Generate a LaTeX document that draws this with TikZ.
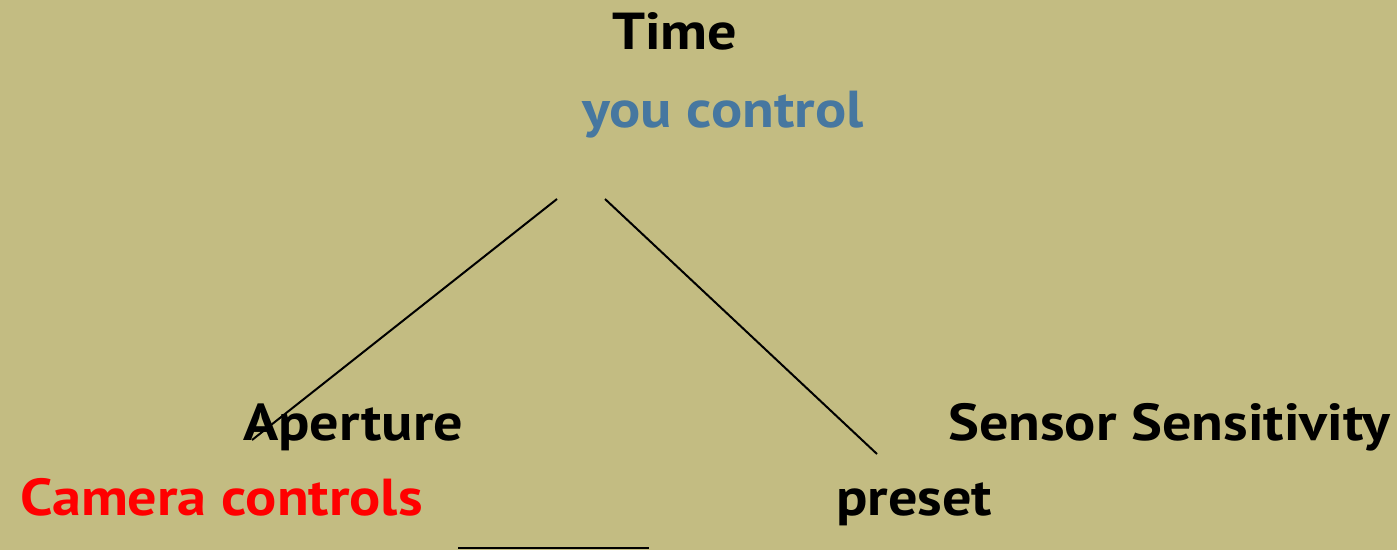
\documentclass[tikz,border=0pt]{standalone}
\usepackage{fontspec}
\setmainfont{PT Sans}[FakeStretch=1.12]
\usepackage{tikz}
\definecolor{olivebg}{RGB}{195,188,130}
\definecolor{ctrlblue}{RGB}{70,119,160}
\tikzstyle{lbl}=[anchor=base west,inner sep=0pt,font=\fontsize{52}{60}\selectfont\bfseries]
\tikzstyle{wire}=[draw=black,line width=2pt]
\begin{document}
\begin{tikzpicture}[x=1pt,y=-1pt]
      \fill[olivebg] (0,0) rectangle (1397,550);
      \useasboundingbox (0,0) rectangle (1397,550);
      \node[lbl] at (612,49) (time) {Time};
      \node[lbl,text=ctrlblue] at (582,127) (you) {you control};
      \node[lbl] at (243,440) (ap) {Aperture};
      \node[lbl,text=red] at (20,515) (cam) {Camera controls};
      \node[lbl] at (948,440) (iso) {Sensor Sensitivity};
      \node[lbl] at (836,515) (pre) {preset};
      \coordinate (l1a) at (557,199);
      \coordinate (l1b) at (252,440);
      \coordinate (l2a) at (605,199);
      \coordinate (l2b) at (877,454);
      \coordinate (ba) at (458,547.5);
      \coordinate (bb) at (649,547.5);
      \draw[wire] (l1a) -- (l1b);
      \draw[wire] (l2a) -- (l2b);
      \draw[wire] (ba) -- (bb);
    \end{tikzpicture}
\end{document}
